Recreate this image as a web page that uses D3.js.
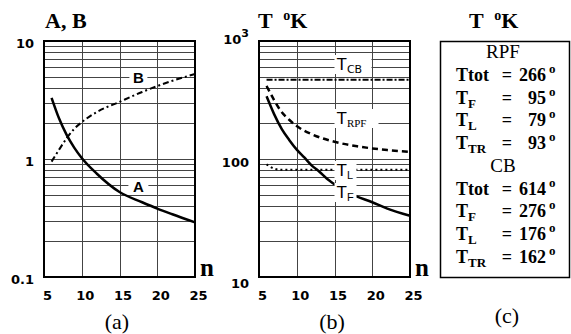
<!DOCTYPE html>
<html>
<head>
<meta charset="utf-8">
<script src="https://cdn.jsdelivr.net/npm/d3@7"></script>
<style>
  body { margin: 0; background: #fff; }
  svg { display: block; }
</style>
</head>
<body>
<div id="chart"></div>
<script>
// Data ----------------------------------------------
const nA = [6, 7, 8, 9, 10, 12, 15, 18, 20, 22, 25];
const aVals = [3.3, 2.2, 1.6, 1.25, 1.02, 0.75, 0.525, 0.43, 0.38, 0.34, 0.29];
const bVals = [0.95, 1.2, 1.5, 1.8, 2.05, 2.5, 3.05, 3.7, 4.15, 4.6, 5.25];

const nF = [6, 7, 8, 9, 10, 11, 12, 13, 14, 15, 16, 17, 18, 20, 22, 25];
const tfVals = [340, 240, 180, 145, 120, 103, 88, 78, 68, 61, 55, 51, 48, 43, 38, 33];

const nRPF = [6, 7, 8, 9, 10, 12, 15, 18, 20, 22, 25];
const rpfVals = [416, 316, 250, 215, 190, 162, 140, 128, 123, 119, 115];

const nL = [6, 7, 8, 10, 15, 20, 25];
const tlVals = [90, 83, 81, 81, 81, 81, 81];

const nCB = [6, 25];
const cbVals = [470, 470];

const xTicks = [5, 10, 15, 20, 25];

const tableHeads = ["RPF", "CB"];
const tableNames = ["tot", "F", "L", "TR"];
const rpfTable = [266, 95, 79, 93];
const cbTable = [614, 276, 176, 162];

// Constants ----------------------------------------------
const width = 571;
const height = 334;
const plotTop = 41, plotBottom = 277;
const serif = "'Liberation Serif', 'Times New Roman', serif";
const sans = "'DejaVu Sans', sans-serif";
const gridColor = "#444";

const svg = d3.select("#chart").append("svg")
  .attr("width", width)
  .attr("height", height);

// Scales ----------------------------------------------
const xA = d3.scaleLinear().domain([5, 25]).range([44, 195]);
const yA = d3.scaleLog().domain([0.1, 10]).range([plotBottom, plotTop]);
const xB = d3.scaleLinear().domain([5, 25]).range([259, 410]);
const yB = d3.scaleLog().domain([10, 1000]).range([plotBottom, plotTop]);

// Panel frame with grid and axis numbers
function drawPanel(x, y) {
  const g = svg.append("g");
  const [x0, x1] = x.range();

  g.append("g").selectAll("line")
    .data(y.ticks())
    .join("line")
    .attr("x1", x0).attr("x2", x1)
    .attr("y1", d => Math.round(y(d)) + 0.5)
    .attr("y2", d => Math.round(y(d)) + 0.5)
    .attr("stroke", gridColor)
    .attr("stroke-width", 1);

  g.append("g").selectAll("line")
    .data(xTicks)
    .join("line")
    .attr("x1", d => Math.round(x(d)) + 0.5)
    .attr("x2", d => Math.round(x(d)) + 0.5)
    .attr("y1", plotTop).attr("y2", plotBottom)
    .attr("stroke", gridColor)
    .attr("stroke-width", 1);

  g.append("rect")
    .attr("x", x0).attr("y", plotTop)
    .attr("width", x1 - x0).attr("height", plotBottom - plotTop)
    .attr("fill", "none")
    .attr("stroke", "#000")
    .attr("stroke-width", 2);

  // x tick numbers
  const ax = g.append("g")
    .attr("transform", `translate(3,${plotBottom + 11})`)
    .call(d3.axisBottom(x).tickValues(xTicks).tickSize(0).tickFormat(d3.format("d")));
  ax.select(".domain").remove();
  ax.selectAll("text")
    .attr("font-family", sans)
    .attr("font-weight", "bold")
    .attr("font-size", 13)
    .attr("fill", "#000");

  // "n"
  g.append("text")
    .attr("x", x1 + 5).attr("y", plotBottom - 1)
    .attr("font-family", serif)
    .attr("font-weight", "bold")
    .attr("font-size", 25)
    .text("n");

  return g;
}

function yLabel(g, x, y, v, txt, sup, dy) {
  const t = g.append("text")
    .attr("x", x.range()[0] - 10)
    .attr("y", y(v) + dy)
    .attr("text-anchor", "end")
    .attr("dominant-baseline", "central")
    .attr("font-family", sans)
    .attr("font-weight", "bold")
    .attr("font-size", 13)
    .text(txt);
  if (sup) {
    t.append("tspan").attr("dy", -6).attr("font-size", 11).text(sup);
  }
}

// Panel (a) ----------------------------------------------
const gA = drawPanel(xA, yA);
yLabel(gA, xA, yA, 10, "10", null, 2);
yLabel(gA, xA, yA, 1, "1", null, 2);
yLabel(gA, xA, yA, 0.1, "0.1", null, 2);

const lineA = d3.line().x(d => xA(d[0])).y(d => yA(d[1])).curve(d3.curveMonotoneX);

gA.append("path")
  .attr("d", lineA(d3.zip(nA, aVals)))
  .attr("fill", "none").attr("stroke", "#000").attr("stroke-width", 2.5);

gA.append("path")
  .attr("d", lineA(d3.zip(nA, bVals)))
  .attr("fill", "none").attr("stroke", "#000").attr("stroke-width", 2)
  .attr("stroke-dasharray", "6,3,2,3");

function boxLabel(g, cx, cy, w, h, txt) {
  g.append("rect")
    .attr("x", cx - w / 2).attr("y", cy - h / 2)
    .attr("width", w).attr("height", h)
    .attr("fill", "#fff");
  g.append("text")
    .attr("x", cx).attr("y", cy + 1)
    .attr("text-anchor", "middle")
    .attr("dominant-baseline", "central")
    .attr("font-family", "'Liberation Sans', Arial, sans-serif")
    .attr("font-weight", "bold")
    .attr("font-size", 15)
    .text(txt);
}
boxLabel(gA, xA(17.5), yA(5), 18, 9, "B");
boxLabel(gA, xA(17.5), yA(0.6), 20, 9, "A");

gA.append("text")
  .attr("x", 45).attr("y", 28)
  .attr("font-family", serif).attr("font-weight", "bold").attr("font-size", 22)
  .text("A, B");

gA.append("text")
  .attr("x", 117).attr("y", 329)
  .attr("text-anchor", "middle")
  .attr("font-family", serif).attr("font-size", 22)
  .text("(a)");

// Panel (b) ----------------------------------------------
const gB = drawPanel(xB, yB);
yLabel(gB, xB, yB, 1000, "10", "3", -2);
yLabel(gB, xB, yB, 100, "100", null, 3);
yLabel(gB, xB, yB, 10, "10", null, 6);

const lineB = d3.line().x(d => xB(d[0])).y(d => yB(d[1])).curve(d3.curveMonotoneX);

gB.append("path")
  .attr("d", lineB(d3.zip(nCB, cbVals)))
  .attr("fill", "none").attr("stroke", "#000").attr("stroke-width", 2)
  .attr("stroke-dasharray", "6,2,2,2");

gB.append("path")
  .attr("d", lineB(d3.zip(nRPF, rpfVals)))
  .attr("fill", "none").attr("stroke", "#000").attr("stroke-width", 2.5)
  .attr("stroke-dasharray", "6,4");

gB.append("path")
  .attr("d", lineB(d3.zip(nL, tlVals)))
  .attr("fill", "none").attr("stroke", "#000").attr("stroke-width", 2)
  .attr("stroke-dasharray", "2,3");

gB.append("path")
  .attr("d", lineB(d3.zip(nF, tfVals)))
  .attr("fill", "none").attr("stroke", "#000").attr("stroke-width", 2.5);

function tLabel(g, x, yBase, sub, subFont, boxW) {
  g.append("rect")
    .attr("x", x - 1).attr("y", yBase - 15)
    .attr("width", boxW).attr("height", 19)
    .attr("fill", "#fff");
  const t = g.append("text")
    .attr("x", x + 1).attr("y", yBase)
    .attr("font-family", "'Liberation Sans', Arial, sans-serif")
    .attr("font-size", 17)
    .text("T");
  t.append("tspan")
    .attr("dy", 3)
    .attr("font-family", subFont)
    .attr("font-size", 11)
    .text(sub);
}
tLabel(gB, xB(15) + 1, 70, "CB", "'DejaVu Sans', sans-serif", 37);
tLabel(gB, xB(15) + 1, 124, "RPF", serif, 44);
tLabel(gB, xB(15) + 1, 176, "L", "'Liberation Sans', Arial, sans-serif", 22);
tLabel(gB, xB(15) + 1, 198, "F", "'Liberation Sans', Arial, sans-serif", 22);

function degTitle(g, x) {
  const t = g.append("text")
    .attr("x", x).attr("y", 28)
    .attr("font-family", serif).attr("font-weight", "bold").attr("font-size", 22)
    .attr("xml:space", "preserve")
    .text("T  ");
  t.append("tspan").attr("dy", -8).attr("font-size", 14).text("o");
  t.append("tspan").attr("dy", 8).text("K");
}
degTitle(gB, 258);

gB.append("text")
  .attr("x", 332).attr("y", 329)
  .attr("text-anchor", "middle")
  .attr("font-family", serif).attr("font-size", 22)
  .text("(b)");

// Panel (c) ----------------------------------------------
const gC = svg.append("g");
degTitle(gC, 469);

gC.append("rect")
  .attr("x", 440.5).attr("y", 41.5)
  .attr("width", 129).attr("height", 236)
  .attr("fill", "none").attr("stroke", "#000").attr("stroke-width", 1.5);

const rowY = d3.scaleLinear().domain([0, 9]).range([58, 263]);
const sections = [rpfTable, cbTable];

sections.forEach((vals, s) => {
  const base = s * 5;
  gC.append("text")
    .attr("x", 503).attr("y", rowY(base))
    .attr("text-anchor", "middle")
    .attr("font-family", serif).attr("font-size", 19)
    .text(tableHeads[s]);

  vals.forEach((v, i) => {
    const y = rowY(base + 1 + i);
    const name = tableNames[i];
    const t = gC.append("text")
      .attr("x", 456).attr("y", y)
      .attr("font-family", serif).attr("font-weight", "bold").attr("font-size", 18)
      .text("T");
    if (name === "tot") {
      t.append("tspan").text("tot");
    } else {
      t.append("tspan").attr("dy", 4).attr("font-size", 13).text(name);
    }
    gC.append("text")
      .attr("x", 507).attr("y", y)
      .attr("text-anchor", "middle")
      .attr("font-family", serif).attr("font-weight", "bold").attr("font-size", 18)
      .text("=");
    gC.append("text")
      .attr("x", 546).attr("y", y)
      .attr("text-anchor", "end")
      .attr("font-family", serif).attr("font-weight", "bold").attr("font-size", 18)
      .text(v);
    gC.append("text")
      .attr("x", 549).attr("y", y - 8)
      .attr("font-family", serif).attr("font-weight", "bold").attr("font-size", 13)
      .text("o");
  });
});

gC.append("text")
  .attr("x", 507).attr("y", 323)
  .attr("text-anchor", "middle")
  .attr("font-family", serif).attr("font-size", 22)
  .text("(c)");
</script>
</body>
</html>
